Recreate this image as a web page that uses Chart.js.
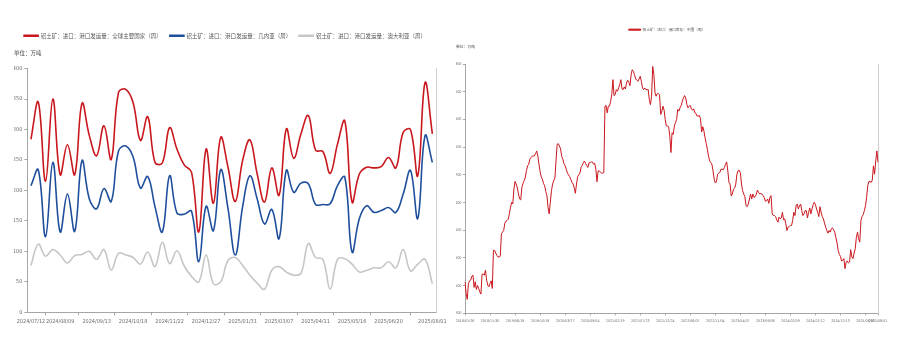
<!DOCTYPE html>
<html>
<head>
<meta charset="utf-8">
<script src="https://cdn.jsdelivr.net/npm/chart.js@4.4.1/dist/chart.umd.min.js"></script>
<style>
  html, body { margin: 0; padding: 0; background: #fff; }
  #shipBox { position: absolute; left: 0; top: 0; width: 450px; height: 339px; }
  #stockBox { position: absolute; left: 450px; top: 0; width: 457px; height: 339px; }
</style>
</head>
<body>
<div id="shipBox"><canvas id="chartShip"></canvas></div>
<div id="stockBox"><canvas id="chartStock"></canvas></div>
<script>
// weekly shipments (万吨)
const shipWeeks = [
  '2024/07/12','2024/07/19','2024/07/26','2024/08/02','2024/08/09','2024/08/16','2024/08/23','2024/08/30',
  '2024/09/06','2024/09/13','2024/09/20','2024/09/27','2024/10/04','2024/10/11','2024/10/18','2024/10/25',
  '2024/11/01','2024/11/08','2024/11/15','2024/11/22','2024/11/29','2024/12/06','2024/12/13','2024/12/20',
  '2024/12/27','2025/01/03','2025/01/10','2025/01/17','2025/01/24','2025/01/31','2025/02/07','2025/02/14',
  '2025/02/21','2025/02/28','2025/03/07','2025/03/14','2025/03/21','2025/03/28','2025/04/04','2025/04/11',
  '2025/04/18','2025/04/25','2025/05/02','2025/05/09','2025/05/16','2025/05/23','2025/05/30','2025/06/06',
  '2025/06/13','2025/06/20','2025/06/27','2025/07/04','2025/07/11','2025/07/18','2025/07/25','2025/08/01'
];
const shipTickLabels = ['2024/07/12','2024/08/09','2024/09/13','2024/10/18','2024/11/22','2024/12/27',
  '2025/01/31','2025/03/07','2025/04/11','2025/05/16','2025/06/20','2025/08/01'];

const shipGlobal = [284,345,215,350,226,275,226,343,290,257,306,251,361,366,344,282,321,246,245,303,
  268,242,230,132,268,179,287,238,182,249,283,227,181,237,192,301,253,293,323,266,
  264,228,276,314,181,227,238,237,239,254,237,295,300,224,377,293];
const shipGuinea = [208,234,124,246,132,194,133,249,186,170,203,182,265,273,255,204,223,173,132,224,
  163,161,166,83,174,134,234,170,94,173,224,186,145,169,121,233,197,212,211,177,
  177,178,208,222,99,154,175,164,167,172,164,194,233,154,290,246];
const shipAustralia = [77,112,92,103,94,81,93,95,100,87,103,69,97,94,90,79,99,75,115,80,
  101,76,59,50,94,47,50,85,90,77,61,48,38,69,75,66,61,64,113,90,
  87,38,87,88,79,66,69,73,73,83,73,103,68,79,87,47];

// port inventory, China (万吨)
const stockTickLabels = ['2018/01/26','2018/11/30','2019/06/18','2019/10/18','2020/03/27','2020/09/04',
  '2021/02/19','2021/07/23','2021/12/24','2022/06/07','2022/11/04','2023/04/07','2023/09/08',
  '2024/02/09','2024/07/12','2024/12/13','2025/08/01'];
const stockValues = [
  1541,1415,1351,1523,1552,1559,1602,1613,1480,1541,1458,1501,1469,1433,1408,1624,1624,1613,1667,1559,
  1505,1487,1523,1552,1469,1882,1882,1853,1828,1810,1810,1817,2062,2080,2097,2176,2198,2205,2219,2277,
  2349,2403,2385,2546,2629,2600,2557,2492,2439,2428,2564,2607,2636,2672,2744,2797,2815,2869,2887,2902,
  2905,2905,2930,2959,2905,2815,2736,2679,2654,2607,2582,2521,2474,2349,2277,2403,2528,2600,2636,2665,
  2851,3031,3038,3013,2980,2900,2870,2820,2800,2760,2720,2700,2680,2650,2620,2600,2560,2500,2600,2680,
  2700,2720,2780,2800,2830,2850,2820,2800,2780,2830,2833,2840,2840,2815,2826,2761,2625,2743,2740,2733,
  2718,2718,2725,3444,3451,3372,3444,3444,3497,3569,3731,3558,3569,3623,3605,3641,3677,3731,3630,3623,
  3652,3630,3695,3724,3702,3666,3785,3838,3820,3785,3738,3724,3713,3738,3767,3713,3641,3623,3641,3623,
  3623,3623,3515,3461,3551,3874,3785,3587,3551,3580,3580,3569,3354,3390,3444,3400,3300,3228,3228,3221,
  3120,2941,3156,3138,3228,3264,3300,3408,3390,3426,3451,3497,3533,3558,3533,3461,3426,3444,3451,3415,
  3400,3415,3372,3365,3336,3336,3343,3307,3164,3221,3174,3102,3041,2977,2905,2851,2833,2815,2743,2654,
  2611,2625,2708,2718,2725,2761,2761,2754,2779,2815,2840,2743,2618,2600,2470,2492,2546,2557,2600,2707,
  2743,2750,2725,2600,2528,2492,2463,2366,2355,2384,2438,2492,2438,2492,2456,2463,2485,2535,2510,2492,
  2499,2492,2474,2456,2413,2420,2438,2391,2456,2474,2277,2259,2259,2248,2212,2187,2241,2223,2233,2294,
  2212,2223,2169,2097,2133,2140,2151,2151,2205,2294,2259,2366,2384,2330,2366,2384,2312,2259,2277,2312,
  2312,2233,2294,2341,2277,2330,2377,2402,2377,2330,2294,2248,2355,2294,2248,2223,2176,2133,2097,2068,
  2097,2079,2115,2126,2104,2079,2018,1961,1882,1839,1817,1767,1774,1792,1684,1756,1767,1745,1756,1889,
  1810,1792,1853,1900,2025,2079,2007,1971,2205,2248,2269,2312,2366,2456,2582,2628,2628,2618,2643,2797,
  2707,2851,2959,2833
];
const stockTickEvery = 22;

const RED = '#c9171e', BLUE = '#1f4f9c', GREY = '#c6c6c6';
const AXIS = '#a6a6a6', TEXT = '#6b6b6b';
const NUM_FONT = "'DejaVu Sans Condensed', 'Liberation Sans Narrow', sans-serif";
const CJK_FONT = "'Noto Sans CJK SC', sans-serif";

Chart.defaults.animation = false;
Chart.defaults.color = TEXT;

function lineSet(label, data, color, width) {
  return {
    label: label, data: data,
    borderColor: color, backgroundColor: color,
    borderWidth: width, pointRadius: 0, fill: false
  };
}

// draws the unit note at a given spot
function unitNote(x, y, size) {
  return {
    id: 'unitNote',
    afterDraw(chart) {
      const ctx = chart.ctx;
      ctx.save();
      ctx.font = size + 'px ' + CJK_FONT;
      ctx.fillStyle = '#444';
      ctx.textBaseline = 'middle';
      ctx.fillText('单位：万吨', x, y);
      ctx.restore();
    }
  };
}

// left: shipments
const shipSets = [
  lineSet('铝土矿：进口：港口发运量：全球主要国家（周）', shipGlobal, RED, 1.6),
  lineSet('铝土矿：进口：港口发运量：几内亚（周）', shipGuinea, BLUE, 1.6),
  lineSet('铝土矿：进口：港口发运量：澳大利亚（周）', shipAustralia, GREY, 1.6)
];
shipSets.forEach(d => d.tension = 0.4);

new Chart(document.getElementById('chartShip'), {
  type: 'line',
  data: { labels: shipWeeks, datasets: shipSets },
  plugins: [unitNote(14, 53, 5.5)],
  options: {
    responsive: true, maintainAspectRatio: false,
    layout: { padding: { top: 25, left: 14, right: 14, bottom: 0 } },
    plugins: {
      tooltip: { enabled: false },
      legend: {
        position: 'top',
        labels: { boxWidth: 14, boxHeight: 1, padding: 8, color: '#555',
                  font: { size: 5.5, family: CJK_FONT } }
      },
      title: { display: true, text: ' ', weight: 500, font: { size: 5.5 },
               padding: { top: 2, bottom: 11.5 } }
    },
    scales: {
      x: {
        offset: true,
        grid: { display: true, offset: true, drawOnChartArea: false, drawTicks: true, tickLength: 3, color: AXIS },
        border: { color: AXIS },
        ticks: {
          autoSkip: false, maxRotation: 0, padding: 3, font: { size: 5.5, family: NUM_FONT },
          callback(v, i) {
            const lab = shipWeeks[i];
            return shipTickLabels.includes(lab) ? lab : null;
          }
        },
        afterFit(s) { s.height = 26.7; }
      },
      y: {
        min: 0, max: 400,
        grid: { drawOnChartArea: false, drawTicks: true, tickLength: 3, color: AXIS },
        border: { color: AXIS },
        ticks: { stepSize: 50, padding: 2, font: { size: 5.5, family: NUM_FONT } },
        afterFit(s) { s.width = 13.3; }
      },
      y2: {
        position: 'right', min: 0, max: 400,
        grid: { display: false },
        border: { color: '#cfcfcf' },
        ticks: { display: false },
        afterFit(s) { s.width = 0; }
      }
    }
  }
});

// right: inventory
const stockLabels = stockValues.map((v, i) => {
  if (i === stockValues.length - 1) return stockTickLabels[stockTickLabels.length - 1];
  if (i % stockTickEvery === 0) return stockTickLabels[i / stockTickEvery] || '';
  return '';
});

new Chart(document.getElementById('chartStock'), {
  type: 'line',
  data: {
    labels: stockLabels,
    datasets: [lineSet('铝土矿：进口：港口库存：中国（周）', stockValues, RED, 1)]
  },
  plugins: [unitNote(6, 47, 3.8)],
  options: {
    responsive: true, maintainAspectRatio: false,
    layout: { padding: { top: 19.8, left: 6, right: 29, bottom: 0 } },
    plugins: {
      tooltip: { enabled: false },
      legend: {
        position: 'top',
        labels: { boxWidth: 12, boxHeight: 1, padding: 8, color: '#555',
                  font: { size: 3.7, family: CJK_FONT } }
      },
      title: { display: true, text: ' ', weight: 500, font: { size: 3.7 },
               padding: { top: 4.6, bottom: 13.5 } }
    },
    scales: {
      x: {
        grid: { display: true, drawOnChartArea: false, drawTicks: true, tickLength: 2, color: AXIS },
        border: { color: AXIS },
        ticks: {
          autoSkip: false, maxRotation: 0, padding: 3.6, font: { size: 3.6, family: NUM_FONT },
          callback(v, i) { return stockLabels[i] || null; }
        },
        afterFit(s) { s.height = 25.7; }
      },
      y: {
        min: 1200, max: 3900,
        grid: { drawOnChartArea: false, drawTicks: true, tickLength: 2, color: AXIS },
        border: { color: AXIS },
        ticks: { stepSize: 300, padding: 1.5, font: { size: 3.8, family: NUM_FONT },
                 callback: v => v.toLocaleString('en-US') },
        afterFit(s) { s.width = 9; }
      },
      y2: {
        position: 'right', min: 1200, max: 3900,
        grid: { display: false },
        border: { color: '#cfcfcf' },
        ticks: { display: false },
        afterFit(s) { s.width = 0; }
      }
    }
  }
});
</script>
</body>
</html>
